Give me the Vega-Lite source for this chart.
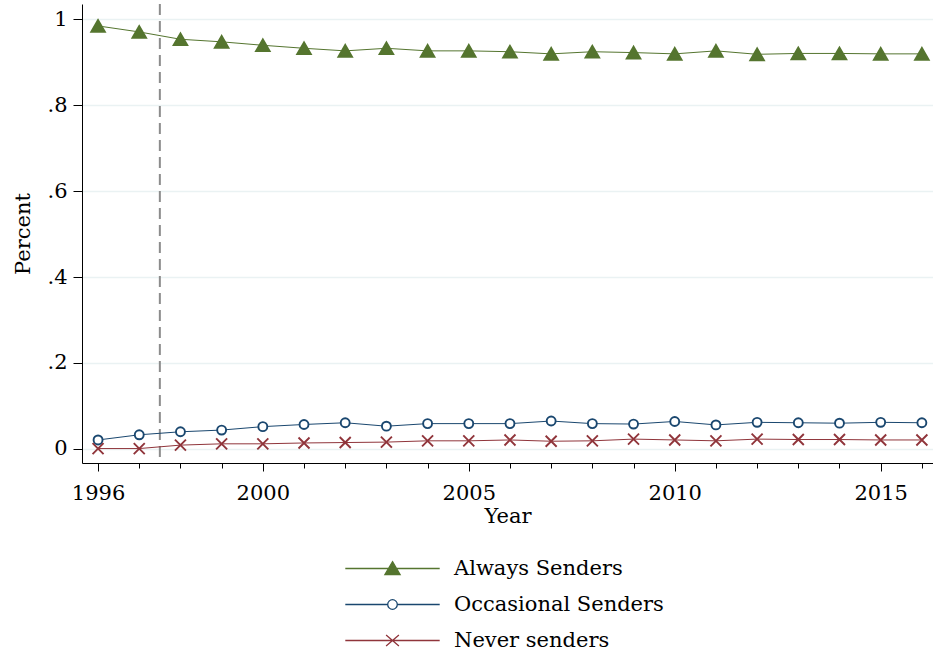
{
  "$schema": "https://vega.github.io/schema/vega-lite/v6.json",
  "width": 851,
  "height": 459,
  "autosize": {"type": "none"},
  "padding": {"left": 82, "top": 4, "right": 0, "bottom": 192},
  "background": "white",
  "config": {"view": {"stroke": null}, "font": "DejaVu Serif"},
  "datasets": {
    "vline": [{"year": 1997.5}],
    "series": [
      {"year": 1996, "series": "Always Senders", "value": 0.984},
      {"year": 1997, "series": "Always Senders", "value": 0.970},
      {"year": 1998, "series": "Always Senders", "value": 0.953},
      {"year": 1999, "series": "Always Senders", "value": 0.947},
      {"year": 2000, "series": "Always Senders", "value": 0.939},
      {"year": 2001, "series": "Always Senders", "value": 0.932},
      {"year": 2002, "series": "Always Senders", "value": 0.926},
      {"year": 2003, "series": "Always Senders", "value": 0.932},
      {"year": 2004, "series": "Always Senders", "value": 0.926},
      {"year": 2005, "series": "Always Senders", "value": 0.926},
      {"year": 2006, "series": "Always Senders", "value": 0.924},
      {"year": 2007, "series": "Always Senders", "value": 0.919},
      {"year": 2008, "series": "Always Senders", "value": 0.924},
      {"year": 2009, "series": "Always Senders", "value": 0.922},
      {"year": 2010, "series": "Always Senders", "value": 0.919},
      {"year": 2011, "series": "Always Senders", "value": 0.926},
      {"year": 2012, "series": "Always Senders", "value": 0.918},
      {"year": 2013, "series": "Always Senders", "value": 0.920},
      {"year": 2014, "series": "Always Senders", "value": 0.920},
      {"year": 2015, "series": "Always Senders", "value": 0.919},
      {"year": 2016, "series": "Always Senders", "value": 0.919},
      {"year": 1996, "series": "Occasional Senders", "value": 0.021},
      {"year": 1997, "series": "Occasional Senders", "value": 0.033},
      {"year": 1998, "series": "Occasional Senders", "value": 0.040},
      {"year": 1999, "series": "Occasional Senders", "value": 0.044},
      {"year": 2000, "series": "Occasional Senders", "value": 0.052},
      {"year": 2001, "series": "Occasional Senders", "value": 0.057},
      {"year": 2002, "series": "Occasional Senders", "value": 0.061},
      {"year": 2003, "series": "Occasional Senders", "value": 0.053},
      {"year": 2004, "series": "Occasional Senders", "value": 0.059},
      {"year": 2005, "series": "Occasional Senders", "value": 0.059},
      {"year": 2006, "series": "Occasional Senders", "value": 0.059},
      {"year": 2007, "series": "Occasional Senders", "value": 0.065},
      {"year": 2008, "series": "Occasional Senders", "value": 0.059},
      {"year": 2009, "series": "Occasional Senders", "value": 0.058},
      {"year": 2010, "series": "Occasional Senders", "value": 0.064},
      {"year": 2011, "series": "Occasional Senders", "value": 0.056},
      {"year": 2012, "series": "Occasional Senders", "value": 0.062},
      {"year": 2013, "series": "Occasional Senders", "value": 0.061},
      {"year": 2014, "series": "Occasional Senders", "value": 0.060},
      {"year": 2015, "series": "Occasional Senders", "value": 0.062},
      {"year": 2016, "series": "Occasional Senders", "value": 0.061},
      {"year": 1996, "series": "Never senders", "value": 0.001},
      {"year": 1997, "series": "Never senders", "value": 0.001},
      {"year": 1998, "series": "Never senders", "value": 0.009},
      {"year": 1999, "series": "Never senders", "value": 0.012},
      {"year": 2000, "series": "Never senders", "value": 0.012},
      {"year": 2001, "series": "Never senders", "value": 0.014},
      {"year": 2002, "series": "Never senders", "value": 0.015},
      {"year": 2003, "series": "Never senders", "value": 0.016},
      {"year": 2004, "series": "Never senders", "value": 0.019},
      {"year": 2005, "series": "Never senders", "value": 0.019},
      {"year": 2006, "series": "Never senders", "value": 0.021},
      {"year": 2007, "series": "Never senders", "value": 0.018},
      {"year": 2008, "series": "Never senders", "value": 0.019},
      {"year": 2009, "series": "Never senders", "value": 0.023},
      {"year": 2010, "series": "Never senders", "value": 0.021},
      {"year": 2011, "series": "Never senders", "value": 0.019},
      {"year": 2012, "series": "Never senders", "value": 0.023},
      {"year": 2013, "series": "Never senders", "value": 0.022},
      {"year": 2014, "series": "Never senders", "value": 0.022},
      {"year": 2015, "series": "Never senders", "value": 0.021},
      {"year": 2016, "series": "Never senders", "value": 0.021}
    ]
  },
  "encoding": {
    "x": {
      "field": "year",
      "type": "quantitative",
      "scale": {"domain": [1995.61, 2016.27], "nice": false, "zero": false},
      "axis": {
        "title": "Year",
        "values": [1996, 1997, 1998, 1999, 2000, 2001, 2002, 2003, 2004, 2005, 2006, 2007, 2008, 2009, 2010, 2011, 2012, 2013, 2014, 2015, 2016],
        "format": "d",
        "labelExpr": "(datum.value == 1996 || datum.value % 5 == 0) ? datum.label : ''",
        "tickSize": {"condition": {"test": "datum.value == 1996 || datum.value % 5 == 0", "value": 8}, "value": 5},
        "grid": false,
        "domainColor": "black",
        "tickColor": "black",
        "labelColor": "black",
        "labelFont": "DejaVu Serif",
        "labelFontSize": 21,
        "labelPadding": 11,
        "labelFlush": false,
        "labelOverlap": false,
        "titleFont": "DejaVu Serif",
        "titleFontSize": 21,
        "titleFontWeight": "normal",
        "titleColor": "black",
        "titlePadding": 2
      }
    }
  },
  "layer": [
    {
      "data": {"name": "vline"},
      "mark": {"type": "rule", "color": "#8c8c8c", "strokeWidth": 2, "strokeDash": [11, 6]},
      "encoding": {}
    },
    {
      "data": {"name": "series"},
      "mark": {"type": "line", "strokeWidth": 1},
      "encoding": {
        "y": {
          "field": "value",
          "type": "quantitative",
          "scale": {"domain": [-0.0326, 1.035], "nice": false, "zero": false},
          "axis": {
            "title": "Percent",
            "values": [0, 0.2, 0.4, 0.6, 0.8, 1],
            "labelExpr": "datum.value == 0 ? '0' : (datum.value == 1 ? '1' : '.' + round(datum.value * 10))",
            "grid": true,
            "gridColor": "#EAF2F3",
            "gridWidth": 1.3,
            "tickSize": 9,
            "tickColor": "black",
            "domainColor": "black",
            "labelColor": "black",
            "labelFont": "DejaVu Serif",
            "labelFontSize": 21,
            "labelPadding": 6,
            "titleFont": "DejaVu Serif",
            "titleFontSize": 21,
            "titleFontWeight": "normal",
            "titleColor": "black",
            "titlePadding": 13
          }
        },
        "color": {
          "field": "series",
          "type": "nominal",
          "scale": {"domain": ["Always Senders", "Occasional Senders", "Never senders"], "range": ["#55752F", "#1A476F", "#90353B"]},
          "legend": {
            "title": null,
            "orient": "none",
            "legendX": 300,
            "legendY": 554,
            "direction": "vertical",
            "padding": 0,
            "labelFont": "DejaVu Serif",
            "labelFontSize": 21,
            "labelColor": "black",
            "labelLimit": 0,
            "symbolSize": 256,
            "labelOffset": 51,
            "rowPadding": 14,
            "encode": {
              "symbols": {
                "update": {
                  "shape": {"signal": "datum.value === 'Always Senders' ? 'M-5.9,0H5.9M0,-0.85L0.95,0.75L-0.95,0.75Z' : (datum.value === 'Occasional Senders' ? 'M-5.9,0H-0.6M0.6,0H5.9M0.6,0A0.6,0.6,0,1,1,-0.6,0A0.6,0.6,0,1,1,0.6,0' : 'M-5.9,0H5.9M-0.8,-0.7L0.8,0.7M-0.8,0.7L0.8,-0.7')"},
                  "fill": {"signal": "datum.value === 'Always Senders' ? '#55752F' : 'transparent'"},
                  "stroke": {"signal": "datum.value === 'Always Senders' ? '#55752F' : (datum.value === 'Occasional Senders' ? '#1A476F' : '#90353B')"},
                  "strokeWidth": {"value": 1.3},
                  "opacity": {"value": 1}
                }
              }
            }
          }
        }
      }
    },
    {
      "data": {"name": "series"},
      "mark": {"type": "point", "filled": false, "opacity": 1, "strokeWidth": 1.9},
      "encoding": {
        "y": {"field": "value", "type": "quantitative"},
        "color": {"field": "series", "type": "nominal"},
        "shape": {"condition": [{"test": "datum.series === 'Always Senders'", "value": "triangle-up"}, {"test": "datum.series === 'Occasional Senders'", "value": "circle"}], "value": "M-1,-1L1,1M-1,1L1,-1"},
        "fill": {"condition": {"test": "datum.series === 'Always Senders'", "value": "#55752F"}, "value": "white"},
        "size": {"condition": [{"test": "datum.series === 'Always Senders'", "value": 185}, {"test": "datum.series === 'Occasional Senders'", "value": 80}], "value": 121}
      }
    }
  ]
}
